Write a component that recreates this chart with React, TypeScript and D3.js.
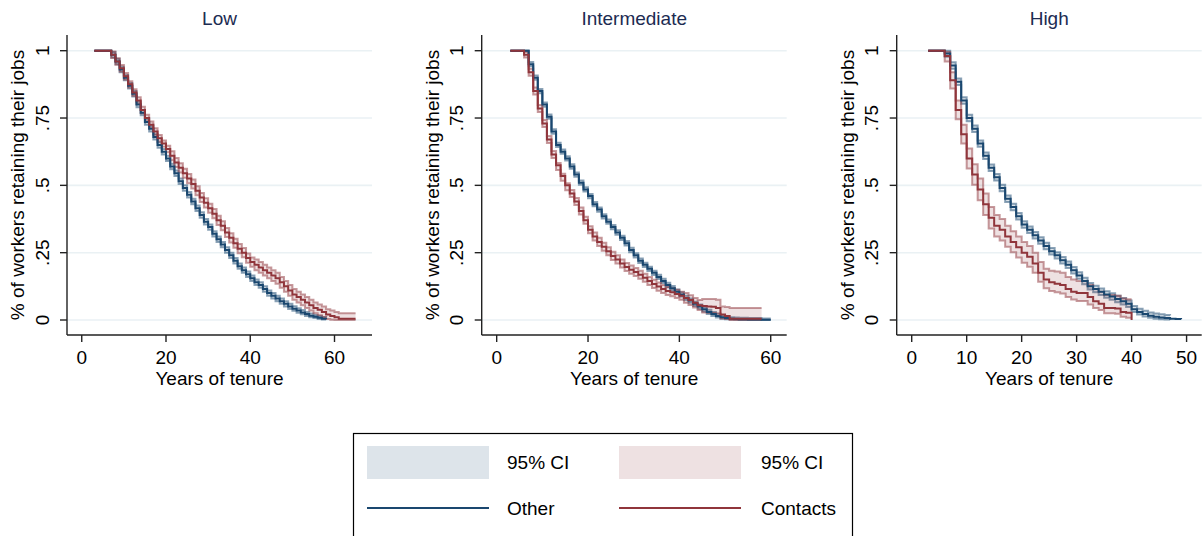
import * as d3 from "d3";

// Kaplan-Meier survival by skill group; one value per year of tenure
const lowStart = 3;
const lowOther = [1, 1, 1, 1, 0.985, 0.96, 0.93, 0.9, 0.87, 0.84, 0.8, 0.77, 0.735, 0.71, 0.68, 0.65, 0.625, 0.6, 0.57, 0.545, 0.515, 0.49, 0.465, 0.44, 0.415, 0.39, 0.365, 0.345, 0.32, 0.3, 0.28, 0.26, 0.24, 0.22, 0.2, 0.185, 0.17, 0.155, 0.14, 0.13, 0.115, 0.1, 0.09, 0.08, 0.07, 0.06, 0.05, 0.042, 0.035, 0.028, 0.022, 0.016, 0.012, 0.008, 0.005, 0.004];
const lowOtherHi = [1, 1, 1, 1, 0.995, 0.97, 0.94, 0.91, 0.88, 0.85, 0.81, 0.78, 0.745, 0.72, 0.69, 0.66, 0.635, 0.61, 0.58, 0.555, 0.525, 0.5, 0.475, 0.45, 0.425, 0.4, 0.375, 0.355, 0.33, 0.31, 0.29, 0.27, 0.25, 0.23, 0.21, 0.195, 0.18, 0.165, 0.15, 0.14, 0.125, 0.11, 0.1, 0.09, 0.08, 0.07, 0.06, 0.051, 0.044, 0.037, 0.03, 0.024, 0.019, 0.015, 0.011, 0.01];
const lowOtherLo = [1, 1, 1, 1, 0.975, 0.95, 0.92, 0.89, 0.86, 0.83, 0.79, 0.76, 0.725, 0.7, 0.67, 0.64, 0.615, 0.59, 0.56, 0.535, 0.505, 0.48, 0.455, 0.43, 0.405, 0.38, 0.355, 0.335, 0.31, 0.29, 0.27, 0.25, 0.23, 0.21, 0.19, 0.175, 0.16, 0.145, 0.13, 0.12, 0.105, 0.09, 0.08, 0.07, 0.06, 0.05, 0.041, 0.034, 0.027, 0.021, 0.015, 0.01, 0.007, 0.004, 0.002, 0.001];
const lowContacts = [1, 1, 1, 1, 0.985, 0.96, 0.935, 0.905, 0.875, 0.845, 0.815, 0.78, 0.75, 0.725, 0.7, 0.675, 0.655, 0.635, 0.61, 0.585, 0.565, 0.545, 0.525, 0.505, 0.48, 0.455, 0.435, 0.415, 0.395, 0.37, 0.35, 0.325, 0.305, 0.285, 0.265, 0.25, 0.23, 0.215, 0.205, 0.195, 0.185, 0.175, 0.165, 0.155, 0.14, 0.125, 0.11, 0.095, 0.085, 0.075, 0.065, 0.055, 0.045, 0.038, 0.03, 0.02, 0.015, 0.01, 0.005, 0.005, 0.005, 0.005, 0.005];
const lowContactsHi = [1, 1, 1, 1, 0.997, 0.972, 0.947, 0.917, 0.887, 0.857, 0.827, 0.792, 0.762, 0.737, 0.712, 0.687, 0.667, 0.647, 0.627, 0.602, 0.582, 0.562, 0.542, 0.522, 0.497, 0.472, 0.452, 0.432, 0.412, 0.387, 0.367, 0.342, 0.322, 0.302, 0.282, 0.267, 0.247, 0.232, 0.225, 0.215, 0.205, 0.195, 0.185, 0.175, 0.16, 0.145, 0.13, 0.115, 0.105, 0.095, 0.085, 0.075, 0.065, 0.058, 0.05, 0.04, 0.035, 0.03, 0.025, 0.025, 0.025, 0.025, 0.025];
const lowContactsLo = [1, 1, 1, 1, 0.973, 0.948, 0.923, 0.893, 0.863, 0.833, 0.803, 0.768, 0.738, 0.713, 0.688, 0.663, 0.643, 0.623, 0.593, 0.568, 0.548, 0.528, 0.508, 0.488, 0.463, 0.438, 0.418, 0.398, 0.378, 0.353, 0.333, 0.308, 0.288, 0.268, 0.248, 0.233, 0.213, 0.198, 0.185, 0.175, 0.165, 0.155, 0.145, 0.135, 0.12, 0.105, 0.09, 0.075, 0.065, 0.055, 0.045, 0.035, 0.025, 0.018, 0.01, 0.004, 0.001, 0, 0, 0, 0, 0, 0];

const midStart = 3;
const midOther = [1, 1, 1, 1, 0.95, 0.9, 0.85, 0.8, 0.755, 0.7, 0.65, 0.625, 0.6, 0.57, 0.54, 0.51, 0.485, 0.46, 0.43, 0.41, 0.385, 0.365, 0.345, 0.325, 0.305, 0.285, 0.26, 0.24, 0.22, 0.205, 0.19, 0.175, 0.16, 0.145, 0.13, 0.118, 0.105, 0.095, 0.082, 0.072, 0.06, 0.05, 0.04, 0.03, 0.022, 0.015, 0.01, 0.007, 0.005, 0.004, 0.003, 0.003, 0.002, 0.002, 0.002, 0.001, 0.001, 0.001];
const midOtherHi = [1, 1, 1, 1, 0.958, 0.908, 0.858, 0.808, 0.763, 0.708, 0.658, 0.633, 0.608, 0.578, 0.548, 0.518, 0.493, 0.468, 0.438, 0.418, 0.393, 0.373, 0.353, 0.333, 0.313, 0.293, 0.268, 0.248, 0.228, 0.213, 0.198, 0.183, 0.168, 0.153, 0.138, 0.126, 0.113, 0.103, 0.09, 0.08, 0.068, 0.058, 0.048, 0.038, 0.03, 0.023, 0.017, 0.013, 0.01, 0.009, 0.008, 0.008, 0.007, 0.007, 0.007, 0.006, 0.006, 0.006];
const midOtherLo = [1, 1, 1, 1, 0.942, 0.892, 0.842, 0.792, 0.747, 0.692, 0.642, 0.617, 0.592, 0.562, 0.532, 0.502, 0.477, 0.452, 0.422, 0.402, 0.377, 0.357, 0.337, 0.317, 0.297, 0.277, 0.252, 0.232, 0.212, 0.197, 0.182, 0.167, 0.152, 0.137, 0.122, 0.11, 0.097, 0.087, 0.074, 0.064, 0.052, 0.042, 0.032, 0.022, 0.015, 0.009, 0.005, 0.003, 0.002, 0.001, 0, 0, 0, 0, 0, 0, 0, 0];
const midContacts = [1, 1, 1, 0.985, 0.92, 0.85, 0.785, 0.73, 0.67, 0.615, 0.575, 0.535, 0.5, 0.47, 0.44, 0.405, 0.37, 0.335, 0.31, 0.29, 0.272, 0.255, 0.238, 0.225, 0.21, 0.197, 0.187, 0.178, 0.168, 0.157, 0.145, 0.134, 0.124, 0.115, 0.108, 0.103, 0.097, 0.09, 0.082, 0.074, 0.064, 0.055, 0.052, 0.05, 0.049, 0.045, 0.02, 0.015, 0.005, 0.005, 0.005, 0.005, 0.005, 0.005, 0.005, 0.005];
const midContactsHi = [1, 1, 1, 0.995, 0.933, 0.863, 0.798, 0.743, 0.683, 0.628, 0.583, 0.543, 0.508, 0.483, 0.453, 0.418, 0.383, 0.348, 0.325, 0.305, 0.287, 0.27, 0.253, 0.24, 0.225, 0.212, 0.202, 0.193, 0.183, 0.172, 0.16, 0.149, 0.139, 0.13, 0.123, 0.118, 0.112, 0.105, 0.1, 0.092, 0.082, 0.074, 0.078, 0.078, 0.078, 0.075, 0.05, 0.048, 0.045, 0.045, 0.045, 0.045, 0.045, 0.045, 0.045, 0.045];
const midContactsLo = [1, 1, 1, 0.975, 0.907, 0.837, 0.772, 0.717, 0.657, 0.602, 0.557, 0.517, 0.482, 0.457, 0.427, 0.392, 0.357, 0.322, 0.295, 0.275, 0.257, 0.24, 0.223, 0.21, 0.195, 0.182, 0.172, 0.163, 0.153, 0.142, 0.13, 0.119, 0.109, 0.1, 0.093, 0.088, 0.082, 0.075, 0.064, 0.056, 0.046, 0.037, 0.028, 0.027, 0.026, 0.024, 0.006, 0.004, 0, 0, 0, 0, 0, 0, 0, 0];

const highStart = 3;
const highOther = [1, 1, 1, 0.99, 0.945, 0.885, 0.815, 0.75, 0.71, 0.655, 0.61, 0.565, 0.53, 0.49, 0.45, 0.42, 0.385, 0.355, 0.335, 0.315, 0.295, 0.275, 0.255, 0.24, 0.222, 0.205, 0.185, 0.165, 0.145, 0.125, 0.115, 0.105, 0.095, 0.087, 0.078, 0.07, 0.06, 0.04, 0.03, 0.022, 0.016, 0.012, 0.009, 0.007, 0.005, 0.004, 0.003];
const highOtherHi = [1, 1, 1, 1, 0.957, 0.897, 0.827, 0.762, 0.722, 0.667, 0.622, 0.577, 0.542, 0.502, 0.462, 0.432, 0.397, 0.367, 0.347, 0.327, 0.307, 0.287, 0.267, 0.252, 0.234, 0.217, 0.197, 0.177, 0.157, 0.137, 0.127, 0.117, 0.107, 0.099, 0.09, 0.082, 0.072, 0.052, 0.042, 0.034, 0.028, 0.024, 0.021, 0.019, 0.017];
const highOtherLo = [1, 1, 1, 0.978, 0.933, 0.873, 0.803, 0.738, 0.698, 0.643, 0.598, 0.553, 0.518, 0.478, 0.438, 0.408, 0.373, 0.343, 0.323, 0.303, 0.283, 0.263, 0.243, 0.228, 0.21, 0.193, 0.173, 0.153, 0.133, 0.113, 0.103, 0.093, 0.083, 0.075, 0.066, 0.058, 0.048, 0.03, 0.02, 0.013, 0.008, 0.005, 0.003, 0.002, 0.001];
const highContacts = [1, 1, 1, 0.98, 0.89, 0.78, 0.69, 0.6, 0.54, 0.485, 0.43, 0.38, 0.35, 0.335, 0.31, 0.29, 0.27, 0.25, 0.235, 0.21, 0.175, 0.15, 0.14, 0.135, 0.13, 0.115, 0.105, 0.1, 0.1, 0.085, 0.07, 0.06, 0.045, 0.045, 0.043, 0.03, 0.027, 0];
const highContactsHi = [1, 1, 1, 0.995, 0.92, 0.815, 0.725, 0.637, 0.578, 0.525, 0.47, 0.42, 0.39, 0.375, 0.35, 0.33, 0.31, 0.29, 0.275, 0.25, 0.215, 0.19, 0.183, 0.18, 0.175, 0.16, 0.15, 0.145, 0.145, 0.13, 0.115, 0.105, 0.093, 0.093, 0.09, 0.08, 0.077, 0.077];
const highContactsLo = [1, 1, 1, 0.96, 0.86, 0.745, 0.655, 0.563, 0.502, 0.445, 0.39, 0.34, 0.31, 0.295, 0.272, 0.252, 0.232, 0.213, 0.198, 0.175, 0.142, 0.118, 0.108, 0.103, 0.098, 0.085, 0.076, 0.071, 0.071, 0.058, 0.045, 0.037, 0.025, 0.025, 0.023, 0.012, 0.008, 0.008];

const panelTitles = ["Low", "Intermediate", "High"];
const lowXTicks = [0, 20, 40, 60];
const midXTicks = [0, 20, 40, 60];
const highXTicks = [0, 10, 20, 30, 40, 50];
const yTicks = [0, 0.25, 0.5, 0.75, 1];
const yTickLabels = ["0", ".25", ".5", ".75", "1"];
const legendLabels = ["95% CI", "95% CI", "Other", "Contacts"];

const BLUE = "#1a476f";
const RED = "#90353b";
const FONT = "'Liberation Sans', Arial, Helvetica, sans-serif";

type Series = { start: number; est: number[]; hi: number[]; lo: number[] };

const panels = [
  {
    title: panelTitles[0], left: 67, domain: [-3.5, 68.9], ticks: lowXTicks,
    other: { start: lowStart, est: lowOther, hi: lowOtherHi, lo: lowOtherLo },
    contacts: { start: lowStart, est: lowContacts, hi: lowContactsHi, lo: lowContactsLo },
  },
  {
    title: panelTitles[1], left: 481.7, domain: [-3.28, 63.5], ticks: midXTicks,
    other: { start: midStart, est: midOther, hi: midOtherHi, lo: midOtherLo },
    contacts: { start: midStart, est: midContacts, hi: midContactsHi, lo: midContactsLo },
  },
  {
    title: panelTitles[2], left: 896.7, domain: [-2.73, 52.75], ticks: highXTicks,
    other: { start: highStart, est: highOther, hi: highOtherHi, lo: highOtherLo },
    contacts: { start: highStart, est: highContacts, hi: highContactsHi, lo: highContactsLo },
  },
];

const plotW = 305;
const axisTop = 35;
const axisBottom = 335;
const y = d3.scaleLinear().domain([0, 1]).range([320, 50.7]);

function Band({ s, x, color }: { s: Series; x: d3.ScaleLinear<number, number>; color: string }) {
  const pts = s.hi.map((h, i) => ({ t: s.start + i, h, l: s.lo[i] }));
  const area = d3.area<any>().curve(d3.curveStepAfter).x((d) => x(d.t)).y0((d) => y(d.l)).y1((d) => y(d.h));
  const hiLine = d3.line<any>().curve(d3.curveStepAfter).x((d) => x(d.t)).y((d) => y(d.h));
  const loLine = d3.line<any>().curve(d3.curveStepAfter).x((d) => x(d.t)).y((d) => y(d.l));
  return (
    <g>
      <path d={area(pts) || ""} fill={color} fillOpacity={0.15} stroke="none" />
      <path d={hiLine(pts) || ""} fill="none" stroke={color} strokeOpacity={0.5} strokeWidth={2} />
      <path d={loLine(pts) || ""} fill="none" stroke={color} strokeOpacity={0.5} strokeWidth={2} />
    </g>
  );
}

function Curve({ s, x, color }: { s: Series; x: d3.ScaleLinear<number, number>; color: string }) {
  const pts = s.est.map((v, i) => [s.start + i, v] as [number, number]);
  const line = d3.line().curve(d3.curveStepAfter).x((d) => x(d[0])).y((d) => y(d[1]));
  return <path d={line(pts) || ""} fill="none" stroke={color} strokeWidth={2} />;
}

function Panel({ p }: { p: (typeof panels)[number] }) {
  const x = d3.scaleLinear().domain(p.domain).range([p.left, p.left + plotW]);
  const cx = p.left + plotW / 2;
  return (
    <g>
      {yTicks.map((v) => (
        <line key={v} x1={p.left} x2={p.left + plotW} y1={y(v)} y2={y(v)} stroke="#eaf1f4" strokeWidth={1.6} />
      ))}
      <Band s={p.other} x={x} color={BLUE} />
      <Band s={p.contacts} x={x} color={RED} />
      <Curve s={p.other} x={x} color={BLUE} />
      <Curve s={p.contacts} x={x} color={RED} />
      <line x1={p.left} x2={p.left} y1={axisTop} y2={axisBottom} stroke="#222" strokeWidth={1.4} />
      <line x1={p.left} x2={p.left + plotW} y1={axisBottom} y2={axisBottom} stroke="#222" strokeWidth={1.4} />
      {yTicks.map((v, i) => (
        <g key={v}>
          <line x1={p.left - 7} x2={p.left} y1={y(v)} y2={y(v)} stroke="#222" strokeWidth={1.4} />
          <text transform={`translate(${p.left - 18.5},${y(v)}) rotate(-90)`} textAnchor="middle" fontSize={19} fill="#000">
            {yTickLabels[i]}
          </text>
        </g>
      ))}
      {p.ticks.map((v) => (
        <g key={v}>
          <line x1={x(v)} x2={x(v)} y1={axisBottom} y2={axisBottom + 7} stroke="#222" strokeWidth={1.4} />
          <text x={x(v)} y={364} textAnchor="middle" fontSize={19} fill="#000">{v}</text>
        </g>
      ))}
      <text x={cx} y={385} textAnchor="middle" fontSize={19} fill="#000">Years of tenure</text>
      <text transform={`translate(${p.left - 43},${(axisTop + axisBottom) / 2}) rotate(-90)`} textAnchor="middle" fontSize={19} fill="#000">
        % of workers retaining their jobs
      </text>
      <text x={cx} y={25} textAnchor="middle" fontSize={19} fill="#1c2b52">{p.title}</text>
    </g>
  );
}

export default function App() {
  return (
    <div style={{ position: "absolute", left: 0, top: 0 }}>
      <svg width={1204} height={536} style={{ display: "block", fontFamily: FONT }}>
        <rect width={1204} height={536} fill="#fff" />
        {panels.map((p) => (
          <Panel key={p.title} p={p} />
        ))}
        <g>
          <rect x={353.5} y={433.5} width={499} height={130} fill="#fff" stroke="#000" strokeWidth={1.2} />
          <rect x={367} y={446} width={122} height={33} fill={BLUE} fillOpacity={0.15} />
          <rect x={619} y={446} width={122} height={33} fill={RED} fillOpacity={0.15} />
          <line x1={367} x2={489} y1={508} y2={508} stroke={BLUE} strokeWidth={2.2} />
          <line x1={619} x2={741} y1={508} y2={508} stroke={RED} strokeWidth={2.2} />
          <text x={507} y={469} fontSize={19}>{legendLabels[0]}</text>
          <text x={761} y={469} fontSize={19}>{legendLabels[1]}</text>
          <text x={507} y={515} fontSize={19}>{legendLabels[2]}</text>
          <text x={761} y={515} fontSize={19}>{legendLabels[3]}</text>
        </g>
      </svg>
    </div>
  );
}
